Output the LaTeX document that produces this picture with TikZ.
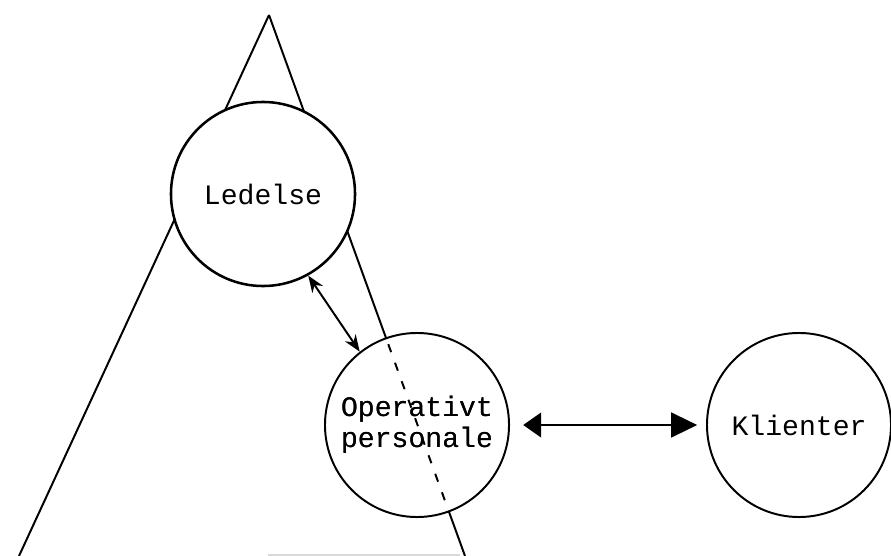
\documentclass[tikz,border=0pt]{standalone}
\usepackage{fontspec}
\setmonofont{Liberation Mono}
\usetikzlibrary{positioning}
\usetikzlibrary{arrows.meta}

\begin{document}
\begin{tikzpicture}[x=0.025cm,y=-0.025cm,
        unit/.style={draw, circle, line width=1.4pt, fill=white, inner sep=0pt,
            minimum size=4.6cm, align=center,
            font=\ttfamily\fontsize{20}{22}\selectfont},
        side/.style={line width=1.4pt}]
        \useasboundingbox (0,0) rectangle (891,556);

        % the organisation triangle
        \coordinate (top) at (269,15);
        \draw[side] (top) -- (19,556);
        \draw[side] (top) -- (465,556);
        \draw[black!15, line width=0.8pt] (268,555) -- (460,555);

        \node[unit, line width=1.8pt] (ledelse) at (263,194) {Ledelse};
        \node[unit] (operativt) at (417,425) {Operativt\\personale};
        \node[unit] (klienter) at (799,425) {Klienter};

        % hidden part of the side behind the operative staff
        \begin{scope}
            \clip (operativt.center) circle (91);
            \draw[side, dash pattern=on 6pt off 8pt, dash phase=3pt] (top) -- (465,556);
        \end{scope}
        \node[font=\ttfamily\fontsize{20}{22}\selectfont, align=center] at (operativt) {Operativt\\personale};

        \draw[line width=1.4pt, {Stealth[length=0.42cm,width=0.32cm]}-{Stealth[length=0.42cm,width=0.32cm]}]
            (ledelse.-61) -- (operativt.128);
        \draw[line width=1.4pt, {Triangle[length=0.45cm,width=0.62cm]}-{Triangle[length=0.65cm,width=0.62cm]}]
            ([xshift=0.33cm]operativt.east) -- ([xshift=-0.22cm]klienter.west);
\end{tikzpicture}
\end{document}
